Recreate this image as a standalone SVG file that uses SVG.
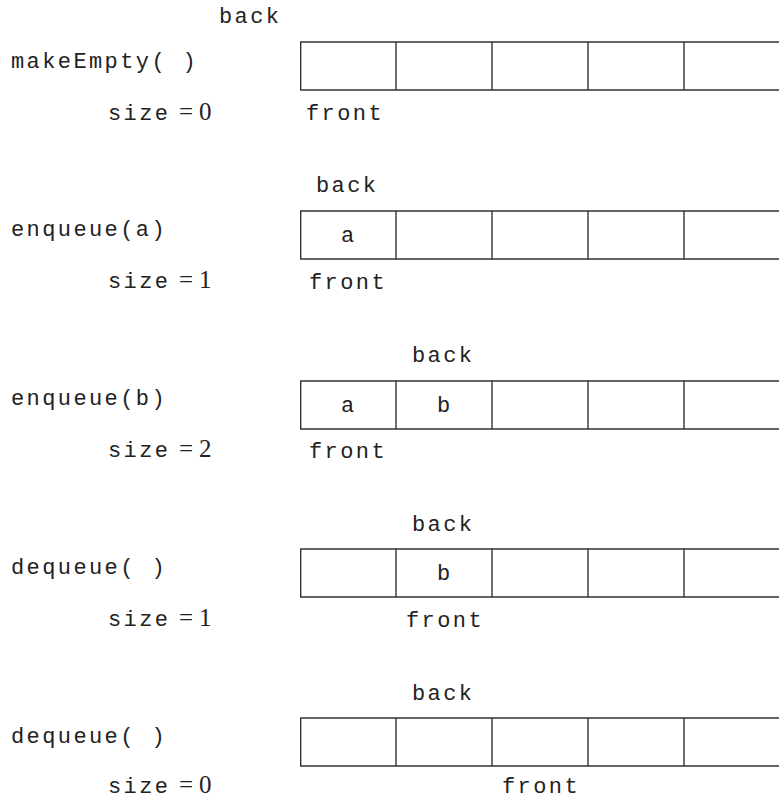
<svg xmlns="http://www.w3.org/2000/svg" width="779" height="800" viewBox="0 0 779 800">
<style>
.t{font-family:"Liberation Mono","DejaVu Sans Mono",monospace;font-size:22px;letter-spacing:2.4px;fill:#222}
.n{font-family:"Liberation Serif","Times New Roman",serif;font-size:25px;fill:#222}
.ln{stroke:#333;stroke-width:1.4;fill:none}
</style>
<defs>
<g id="arr">
<path class="ln" d="M300,0 H779 M300,48 H779 M300.7,0 V48 M396,0 V48 M492,0 V48 M588,0 V48 M684,0 V48"/>
</g>
</defs>
<rect width="779" height="800" fill="#fff"/>

<g id="row1">
<text class="t" x="11" y="68">makeEmpty( )</text>
<text class="t" x="108" y="120">size</text><text class="n" x="179" y="120">=</text><text class="n" x="199" y="120">0</text>
<text class="t" x="219" y="23">back</text>
<use href="#arr" y="42"/>
<text class="t" x="306" y="120">front</text>
</g>

<g id="row2">
<text class="t" x="11" y="236">enqueue(a)</text>
<text class="t" x="108" y="288">size</text><text class="n" x="179" y="288">=</text><text class="n" x="199" y="288">1</text>
<text class="t" x="316" y="192">back</text>
<use href="#arr" y="211"/>
<text class="t" x="341" y="242">a</text>
<text class="t" x="309" y="289">front</text>
</g>

<g id="row3">
<text class="t" x="11" y="405">enqueue(b)</text>
<text class="t" x="108" y="457">size</text><text class="n" x="179" y="457">=</text><text class="n" x="199" y="457">2</text>
<text class="t" x="412" y="362">back</text>
<use href="#arr" y="381"/>
<text class="t" x="341" y="412">a</text>
<text class="t" x="437" y="412">b</text>
<text class="t" x="309" y="458">front</text>
</g>

<g id="row4">
<text class="t" x="11" y="574">dequeue( )</text>
<text class="t" x="108" y="626">size</text><text class="n" x="179" y="626">=</text><text class="n" x="199" y="626">1</text>
<text class="t" x="412" y="531">back</text>
<use href="#arr" y="549"/>
<text class="t" x="437" y="580">b</text>
<text class="t" x="406" y="627">front</text>
</g>

<g id="row5">
<text class="t" x="11" y="743">dequeue( )</text>
<text class="t" x="108" y="793">size</text><text class="n" x="179" y="793">=</text><text class="n" x="199" y="793">0</text>
<text class="t" x="412" y="700">back</text>
<use href="#arr" y="718"/>
<text class="t" x="502" y="793">front</text>
</g>
</svg>
